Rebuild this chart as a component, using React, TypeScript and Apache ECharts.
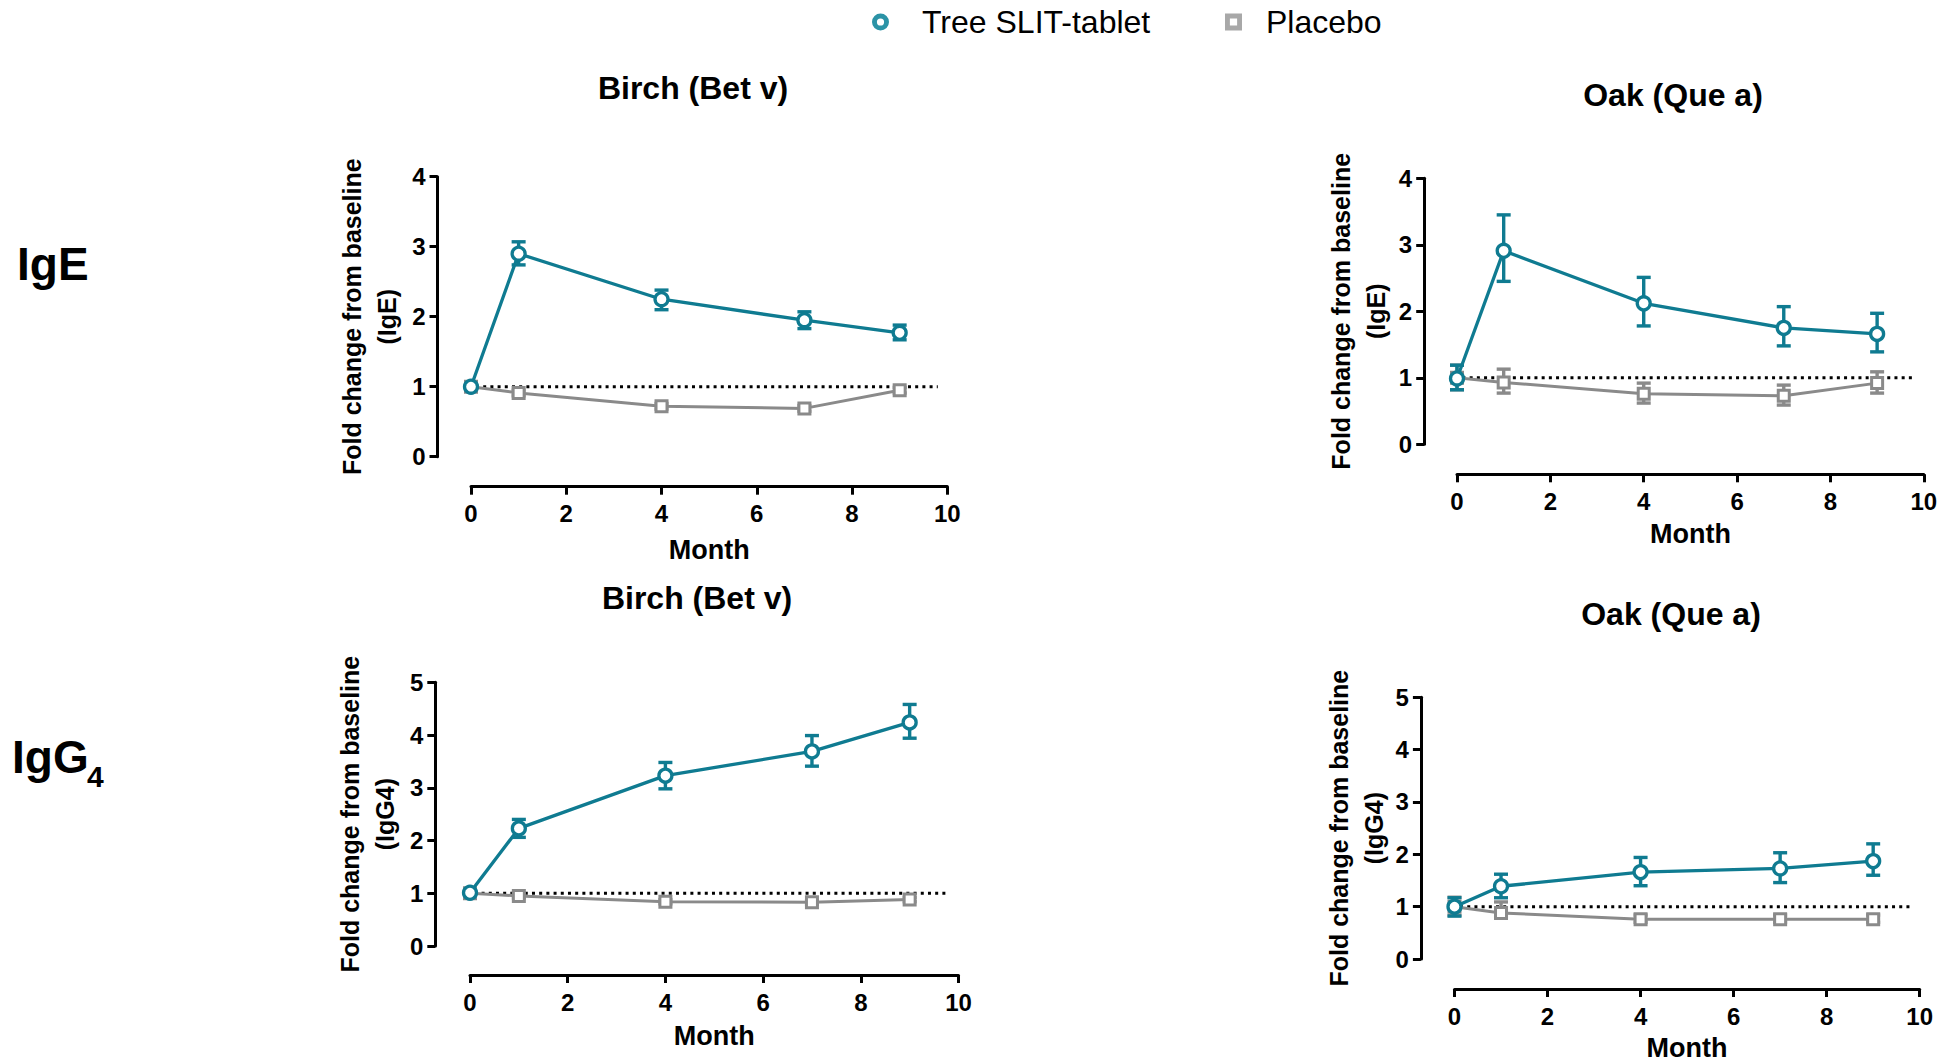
import React, { useEffect, useRef } from "react";
import * as echarts from "echarts";

const FONT = "'Liberation Sans', Arial, sans-serif";
const TEAL = "#0f7b91";
const GRAY = "#8a8a8a";

const months = [0, 1, 4, 7, 9];
const xTicks = [0, 2, 4, 6, 8, 10];

const panelTitles = ["Birch (Bet v)", "Oak (Que a)", "Birch (Bet v)", "Oak (Que a)"];
const yNames = [
  "Fold change from baseline\n(IgE)",
  "Fold change from baseline\n(IgE)",
  "Fold change from baseline\n(IgG4)",
  "Fold change from baseline\n(IgG4)",
];
const yMax = [4, 4, 5, 5];

// Birch IgE
const birchIgETree = [1.0, 2.9, 2.25, 1.95, 1.77];
const birchIgETreeHi = [1.03, 3.07, 2.38, 2.07, 1.88];
const birchIgETreeLo = [0.97, 2.74, 2.1, 1.83, 1.67];
const birchIgEPlacebo = [1.0, 0.91, 0.72, 0.69, 0.95];
const birchIgEPlaceboHi = [1.03, 0.95, 0.76, 0.73, 0.99];
const birchIgEPlaceboLo = [0.97, 0.87, 0.68, 0.65, 0.91];

// Oak IgE
const oakIgETree = [0.99, 2.91, 2.12, 1.75, 1.66];
const oakIgETreeHi = [1.19, 3.45, 2.51, 2.07, 1.97];
const oakIgETreeLo = [0.82, 2.45, 1.78, 1.48, 1.39];
const oakIgEPlacebo = [1.0, 0.93, 0.76, 0.73, 0.92];
const oakIgEPlaceboHi = [1.19, 1.13, 0.92, 0.89, 1.09];
const oakIgEPlaceboLo = [0.82, 0.77, 0.62, 0.59, 0.77];

// Birch IgG4
const birchIgG4Tree = [1.01, 2.23, 3.23, 3.69, 4.24];
const birchIgG4TreeHi = [1.05, 2.4, 3.48, 3.99, 4.58];
const birchIgG4TreeLo = [0.97, 2.06, 2.98, 3.41, 3.94];
const birchIgG4Placebo = [1.0, 0.95, 0.84, 0.83, 0.88];
const birchIgG4PlaceboHi = [1.04, 0.99, 0.88, 0.87, 0.92];
const birchIgG4PlaceboLo = [0.96, 0.91, 0.8, 0.79, 0.84];

// Oak IgG4
const oakIgG4Tree = [1.0, 1.39, 1.66, 1.73, 1.87];
const oakIgG4TreeHi = [1.17, 1.62, 1.94, 2.03, 2.2];
const oakIgG4TreeLo = [0.82, 1.17, 1.4, 1.46, 1.6];
const oakIgG4Placebo = [1.0, 0.88, 0.76, 0.76, 0.76];
const oakIgG4PlaceboHi = [1.18, 1.09, 0.84, 0.84, 0.84];
const oakIgG4PlaceboLo = [0.83, 0.8, 0.7, 0.7, 0.7];

const treeSets = [
  [birchIgETree, birchIgETreeLo, birchIgETreeHi],
  [oakIgETree, oakIgETreeLo, oakIgETreeHi],
  [birchIgG4Tree, birchIgG4TreeLo, birchIgG4TreeHi],
  [oakIgG4Tree, oakIgG4TreeLo, oakIgG4TreeHi],
];
const placeboSets = [
  [birchIgEPlacebo, birchIgEPlaceboLo, birchIgEPlaceboHi],
  [oakIgEPlacebo, oakIgEPlaceboLo, oakIgEPlaceboHi],
  [birchIgG4Placebo, birchIgG4PlaceboLo, birchIgG4PlaceboHi],
  [oakIgG4Placebo, oakIgG4PlaceboLo, oakIgG4PlaceboHi],
];
const baselineRef = [1, 1, 1, 1];
const refStart = -0.5;
const refEnd = 9.8;

// layout (pixels)
const grids = [
  { left: 471, right: 994.7, top: 176.7, bottom: 605.3, yOff: 33.5, xOff: 30, yGap: 33, xGap: 50 },
  { left: 1457, right: 18.2, top: 178.3, bottom: 617.7, yOff: 32.8, xOff: 30, yGap: 31, xGap: 46 },
  { left: 470, right: 983.5, top: 682.3, bottom: 116, yOff: 34.7, xOff: 29, yGap: 33, xGap: 47 },
  { left: 1454.5, right: 22.3, top: 697.3, bottom: 100.3, yOff: 33.6, xOff: 30, yGap: 29, xGap: 45 },
];
const titlePos = [
  [693, 88],
  [1673, 94.5],
  [697, 597.5],
  [1671, 614],
];

const RING_ICON =
  "path://M8,0A8,8,0,1,1,8,16A8,8,0,1,1,8,0ZM8,4.6A3.4,3.4,0,1,0,8,11.4A3.4,3.4,0,1,0,8,4.6Z";
const SQUARE_ICON = "path://M0,0H16V16H0ZM4.6,4.6V11.4H11.4V4.6Z";

function errSeries(idx: number, lo: number[], hi: number[], color: string, name: string) {
  return {
    type: "custom",
    name,
    xAxisIndex: idx,
    yAxisIndex: idx,
    silent: true,
    z: 2,
    encode: { x: 0, y: [1, 2] },
    data: months.map((m, i) => [m, lo[i], hi[i]]),
    renderItem: (params: any, api: any) => {
      const x = api.value(0);
      const pl = api.coord([x, api.value(1)]);
      const ph = api.coord([x, api.value(2)]);
      const hw = 7;
      const st = { stroke: color, lineWidth: 3.4, fill: null };
      return {
        type: "group",
        children: [
          { type: "line", shape: { x1: pl[0], y1: pl[1], x2: ph[0], y2: ph[1] }, style: st },
          { type: "line", shape: { x1: pl[0] - hw, y1: pl[1], x2: pl[0] + hw, y2: pl[1] }, style: st },
          { type: "line", shape: { x1: ph[0] - hw, y1: ph[1], x2: ph[0] + hw, y2: ph[1] }, style: st },
        ],
      };
    },
  };
}

export default function App() {
  const ref = useRef<HTMLDivElement>(null);
  useEffect(() => {
    if (!ref.current) return;
    const chart = echarts.init(ref.current, undefined, { renderer: "svg" });

    const grid = grids.map((g) => ({
      left: g.left,
      right: g.right,
      top: g.top,
      bottom: g.bottom,
      containLabel: false,
    }));

    const xAxis = grids.map((g, i) => ({
      type: "value",
      gridIndex: i,
      min: xTicks[0],
      max: xTicks[xTicks.length - 1],
      interval: 2,
      offset: g.xOff,
      name: "Month",
      nameLocation: "middle",
      nameGap: g.xGap,
      nameTextStyle: { fontFamily: FONT, fontWeight: "bold", fontSize: 27, color: "#000" },
      axisLine: { show: true, onZero: false, lineStyle: { color: "#000", width: 3 } },
      axisTick: { show: true, length: 8, lineStyle: { color: "#000", width: 3 } },
      axisLabel: { fontFamily: FONT, fontWeight: "bold", fontSize: 24, color: "#000", margin: 15 },
      splitLine: { show: false },
    }));

    const yAxis = grids.map((g, i) => ({
      type: "value",
      gridIndex: i,
      min: 0,
      max: yMax[i],
      interval: 1,
      offset: g.yOff,
      name: yNames[i],
      nameLocation: "middle",
      nameRotate: 90,
      nameGap: g.yGap,
      nameTextStyle: { fontFamily: FONT, fontWeight: "bold", fontSize: 25, lineHeight: 35, color: "#000" },
      axisLine: { show: true, onZero: false, lineStyle: { color: "#000", width: 3 } },
      axisTick: { show: true, length: 8, lineStyle: { color: "#000", width: 3 } },
      axisLabel: { fontFamily: FONT, fontWeight: "bold", fontSize: 24, color: "#000", margin: 12 },
      splitLine: { show: false },
    }));

    const series: any[] = [];
    for (let i = 0; i < 4; i++) {
      const [pv, plo, phi] = placeboSets[i];
      const [tv, tlo, thi] = treeSets[i];
      series.push({
        type: "line",
        name: "baseline",
        xAxisIndex: i,
        yAxisIndex: i,
        z: 1,
        silent: true,
        clip: false,
        symbol: "none",
        data: [
          [refStart, baselineRef[i]],
          [refEnd, baselineRef[i]],
        ],
        lineStyle: { color: "#000", width: 3, type: [3, 4.2], cap: "butt" },
      });
      series.push(errSeries(i, plo, phi, GRAY, "Placebo"));
      series.push(errSeries(i, tlo, thi, TEAL, "Tree SLIT-tablet"));
      series.push({
        type: "line",
        name: "Placebo",
        xAxisIndex: i,
        yAxisIndex: i,
        z: 3,
        data: months.map((m, k) => [m, pv[k]]),
        symbol: "rect",
        symbolSize: 11,
        lineStyle: { color: GRAY, width: 3 },
        itemStyle: { color: "#fff", borderColor: GRAY, borderWidth: 3 },
      });
      series.push({
        type: "line",
        name: "Tree SLIT-tablet",
        xAxisIndex: i,
        yAxisIndex: i,
        z: 4,
        data: months.map((m, k) => [m, tv[k]]),
        symbol: "circle",
        symbolSize: 13,
        lineStyle: { color: TEAL, width: 3.3 },
        itemStyle: { color: "#fff", borderColor: TEAL, borderWidth: 3.3 },
      });
    }

    const graphic: any[] = [];
    titlePos.forEach(([x, y], i) => {
      graphic.push({
        type: "text",
        x,
        y,
        style: {
          text: panelTitles[i],
          font: `bold 32px ${FONT}`,
          fill: "#000",
          align: "center",
          verticalAlign: "middle",
        },
      });
    });
    graphic.push({
      type: "text",
      x: 17,
      y: 264,
      style: { text: "IgE", font: `bold 46px ${FONT}`, fill: "#000", align: "left", verticalAlign: "middle" },
    });
    graphic.push({
      type: "text",
      x: 12,
      y: 757,
      style: { text: "IgG", font: `bold 46px ${FONT}`, fill: "#000", align: "left", verticalAlign: "middle" },
    });
    graphic.push({
      type: "text",
      x: 87,
      y: 776,
      style: { text: "4", font: `bold 30px ${FONT}`, fill: "#000", align: "left", verticalAlign: "middle" },
    });

    const legendText = { fontFamily: FONT, fontSize: 32, color: "#000", lineHeight: 32 };
    chart.setOption({
      animation: false,
      backgroundColor: "#fff",
      grid,
      xAxis,
      yAxis,
      series,
      graphic,
      legend: [
        {
          left: 872,
          top: 6,
          padding: 0,
          itemWidth: 17,
          itemHeight: 17,
          selectedMode: false,
          textStyle: { ...legendText, padding: [0, 0, 0, 28] },
          data: [{ name: "Tree SLIT-tablet", icon: RING_ICON, itemStyle: { color: "#2b93a6", borderWidth: 0 } }],
        },
        {
          left: 1225,
          top: 6,
          padding: 0,
          itemWidth: 17,
          itemHeight: 17,
          selectedMode: false,
          textStyle: { ...legendText, padding: [0, 0, 0, 19] },
          data: [{ name: "Placebo", icon: SQUARE_ICON, itemStyle: { color: "#a8a8a8", borderWidth: 0 } }],
        },
      ],
    });
    return () => chart.dispose();
  }, []);
  return (
    <div
      ref={ref}
      style={{ position: "absolute", left: 0, top: 0, width: 1942, height: 1062, background: "#fff" }}
    />
  );
}
